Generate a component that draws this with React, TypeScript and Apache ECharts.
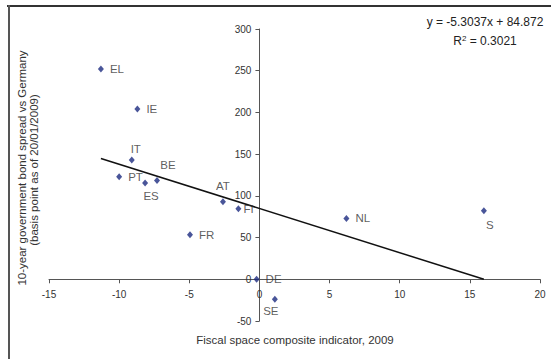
import React, { useEffect, useRef } from "react";
import * as echarts from "echarts";

// ---- data ----
const countries = ["EL", "IE", "IT", "PT", "ES", "BE", "AT", "FI", "FR", "DE", "SE", "NL", "S"];
const fiscalSpace = [-11.3, -8.7, -9.1, -10.0, -8.15, -7.3, -2.6, -1.5, -4.95, -0.2, 1.1, 6.2, 16.0];
const bondSpread = [252, 204, 143, 123, 115.5, 118.5, 93, 84.5, 53.5, 0, -24, 73, 82];

const xTicks = { min: -15, max: 20, interval: 5 };
const yTicks = { min: -50, max: 300, interval: 50 };

const trendSlope = -5.3037;
const trendIntercept = 84.872;
const rSquared = 0.3021;

const yTitleLines = ["10-year government bond spread vs Germany", "(basis point as of 20/01/2009)"];
const xTitle = "Fiscal space composite indicator, 2009";

// layout
const GRID = { left: 49, right: 11, top: 29, bottom: 38 };
const W = 551;
const H = 359;

// label placement styles (not data)
const labelStyle: Record<string, any> = {
  EL: { position: "right", distance: 6 },
  IE: { position: "right", distance: 6 },
  IT: { position: "top", distance: 1, offset: [4, 0] },
  PT: { position: "right", distance: 6 },
  ES: { position: "bottom", distance: 4, offset: [6, 0] },
  BE: { position: "top", distance: 6, offset: [11, 0] },
  AT: { position: "top", distance: 6 },
  FI: { position: "right", distance: 2 },
  FR: { position: "right", distance: 6 },
  DE: { position: "right", distance: 6 },
  SE: { position: "bottom", distance: 2, offset: [-4, 0] },
  NL: { position: "right", distance: 6 },
  S: { position: "bottom", distance: 5, offset: [6, 0] },
};

export default function App() {
  const ref = useRef<HTMLDivElement>(null);
  useEffect(() => {
    document.body.style.margin = "0";
    if (!ref.current) return;
    const chart = echarts.init(ref.current, null, { renderer: "svg" });
    const font = "'Liberation Sans', Arial, sans-serif";
    const points = countries.map((c, i) => ({
      name: c,
      value: [fiscalSpace[i], bondSpread[i]],
      label: { show: true, formatter: c, ...labelStyle[c] },
    }));
    const xMin = Math.min(...fiscalSpace);
    const xMax = Math.max(...fiscalSpace);
    const trend = [
      [xMin, trendSlope * xMin + trendIntercept],
      [xMax, trendSlope * xMax + trendIntercept],
    ];
    // place axes through the origin (offset from grid edges)
    const gw = W - GRID.left - GRID.right;
    const gh = H - GRID.top - GRID.bottom;
    const x0 = ((0 - xTicks.min) / (xTicks.max - xTicks.min)) * gw;
    const y0 = ((0 - yTicks.min) / (yTicks.max - yTicks.min)) * gh;

    const titleStyle = {
      fontSize: 11.5,
      fontFamily: font,
      fill: "#333",
      align: "center",
      verticalAlign: "middle",
    };

    chart.setOption({
      animation: false,
      backgroundColor: "#ffffff",
      grid: { ...GRID, containLabel: false, outerBoundsMode: "none" },
      xAxis: {
        type: "value",
        position: "bottom",
        offset: -y0,
        min: xTicks.min,
        max: xTicks.max,
        interval: xTicks.interval,
        splitLine: { show: false },
        axisLine: { onZero: false, lineStyle: { color: "#555", width: 1 } },
        axisTick: { show: true, inside: false, length: 4, lineStyle: { color: "#555" } },
        axisLabel: { color: "#333", fontSize: 10, fontFamily: font, margin: 10, showMinLabel: true, showMaxLabel: true },
      },
      yAxis: {
        type: "value",
        position: "left",
        offset: -x0,
        min: yTicks.min,
        max: yTicks.max,
        interval: yTicks.interval,
        splitLine: { show: false },
        axisLine: { onZero: false, lineStyle: { color: "#555", width: 1 } },
        axisTick: { show: true, inside: false, length: 4, lineStyle: { color: "#555" } },
        axisLabel: { color: "#333", fontSize: 10, fontFamily: font, margin: 8 },
      },
      series: [
        {
          type: "line",
          data: trend,
          symbol: "none",
          lineStyle: { color: "#111", width: 1.5 },
          z: 1,
        },
        {
          type: "scatter",
          data: points,
          symbol: "diamond",
          symbolSize: [6, 7],
          itemStyle: { color: "#1c2a80" },
          label: { color: "#333", fontSize: 11.5, fontFamily: font },
          z: 3,
        },
      ],
      graphic: [
        { type: "rect", shape: { x: 7, y: 5, width: 544, height: 2 }, style: { fill: "#333" } },
        { type: "rect", shape: { x: 8, y: 5, width: 2, height: 354 }, style: { fill: "#555" } },
        {
          type: "text",
          x: 485,
          y: 22,
          style: {
            text: `y = ${trendSlope}x + ${trendIntercept}`,
            fontSize: 12,
            fontFamily: font,
            fill: "#222",
            align: "center",
            verticalAlign: "middle",
          },
        },
        {
          type: "text",
          x: 485,
          y: 41,
          style: {
            text: `R{sup|2} = ${rSquared}`,
            fontSize: 12,
            fontFamily: font,
            fill: "#222",
            align: "center",
            verticalAlign: "middle",
            rich: { sup: { fontSize: 8, fontFamily: font, fill: "#222", verticalAlign: "top", padding: [0, 0, 6, 0] } },
          },
        },
        {
          type: "text",
          x: 22,
          y: 168,
          rotation: Math.PI / 2,
          style: { text: yTitleLines[0], ...titleStyle },
        },
        {
          type: "text",
          x: 34,
          y: 170,
          rotation: Math.PI / 2,
          style: { text: yTitleLines[1], ...titleStyle },
        },
        {
          type: "text",
          x: 295,
          y: 340,
          style: { text: xTitle, ...titleStyle },
        },
      ],
    });
    return () => chart.dispose();
  }, []);
  return <div ref={ref} style={{ width: W, height: H }} />;
}
